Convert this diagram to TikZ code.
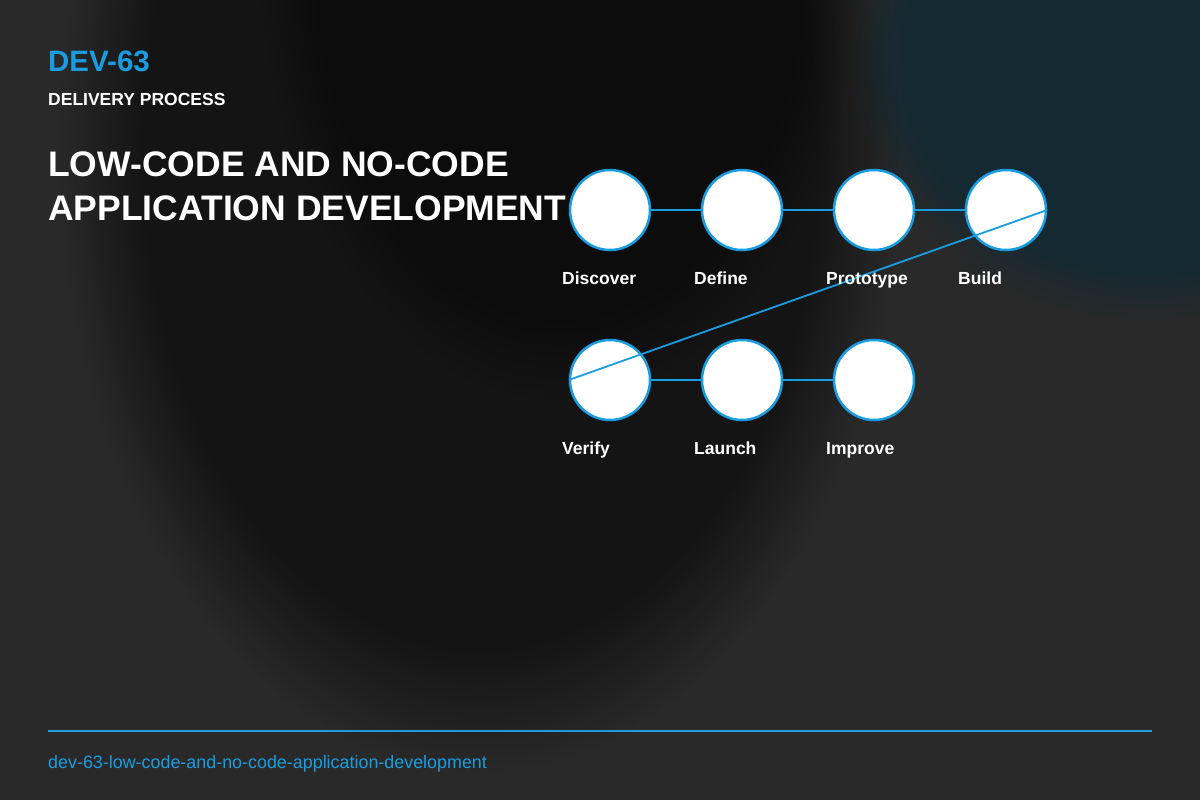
\documentclass[tikz,border=0pt]{standalone}
\usepackage{fontspec}
\setmainfont{Liberation Sans}
\usetikzlibrary{fadings}
\definecolor{acc}{HTML}{1A9DE0}
\definecolor{teal0}{HTML}{062A38}
\begin{document}
\begin{tikzpicture}[x=1pt,y=-1pt,
  stepnode/.style={circle,draw=acc,line width=2.5pt,fill=white,minimum size=80pt,inner sep=0pt},
  lab/.style={anchor=base west,text=white,font=\bfseries\fontsize{17.5}{20}\selectfont,inner sep=0pt},
  conn/.style={draw=acc,line width=2.8pt},
  diag/.style={draw=acc,line width=1.8pt}]
\useasboundingbox (0,0) rectangle (1200,800);
\fill[black!84!white] (0,0) rectangle (1200,800);
\fill[black,opacity=0.5,path fading=circle with fuzzy edge 20 percent] (480,150) ellipse (420 and 620);
\fill[black,opacity=0.4,path fading=circle with fuzzy edge 20 percent] (560,-50) ellipse (300 and 450);
\fill[teal0,opacity=0.6,path fading=circle with fuzzy edge 20 percent] (1150,60) ellipse (300 and 260);
\node[anchor=base west,text=acc,font=\bfseries\fontsize{29.5}{32}\selectfont,inner sep=0pt] (code) at (48,72) {DEV-63};
\node[anchor=base west,text=white,font=\bfseries\fontsize{17.5}{20}\selectfont,inner sep=0pt] (sub) at (48,105) {DELIVERY PROCESS};
\node[anchor=base west,text=white,font=\bfseries\fontsize{35.5}{44}\selectfont,align=left,inner sep=0pt] (title) at (48,176) {LOW-CODE AND NO-CODE};
\node[anchor=base west,text=white,font=\bfseries\fontsize{35.5}{44}\selectfont,align=left,inner sep=0pt] (title2) at (48,220) {APPLICATION DEVELOPMENT};
\node[stepnode] (a) at (610,210) {};
\node[stepnode] (b) at (742,210) {};
\node[stepnode] (c) at (874,210) {};
\node[stepnode] (d) at (1006,210) {};
\node[stepnode] (e) at (610,380) {};
\node[stepnode] (f) at (742,380) {};
\node[stepnode] (g) at (874,380) {};
\draw[conn] (a) -- (b); \draw[conn] (b) -- (c); \draw[conn] (c) -- (d);
\draw[conn] (e) -- (f); \draw[conn] (f) -- (g);
\draw[diag] (d.east) -- (e.west);
\node[lab] at (562,284) {Discover};
\node[lab] at (694,284) {Define};
\node[lab] at (826,284) {Prototype};
\node[lab] at (958,284) {Build};
\node[lab] at (562,454) {Verify};
\node[lab] at (694,454) {Launch};
\node[lab] at (826,454) {Improve};
\coordinate (l1) at (48,731); \coordinate (l2) at (1152,731);
\draw[acc,line width=1.5pt] (l1) -- (l2);
\node[anchor=base west,text=acc,font=\fontsize{17.9}{20}\selectfont,inner sep=0pt] (foot) at (48,768) {dev-63-low-code-and-no-code-application-development};
\end{tikzpicture}
\end{document}
